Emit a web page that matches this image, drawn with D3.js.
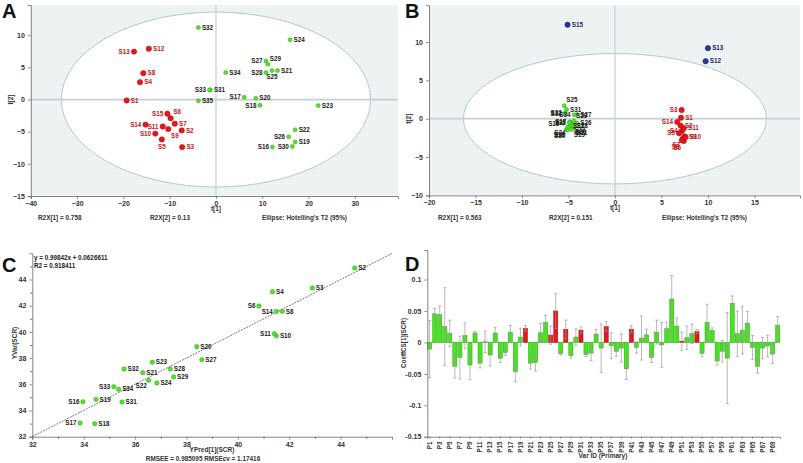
<!DOCTYPE html>
<html><head><meta charset="utf-8">
<script src="https://cdn.jsdelivr.net/npm/d3@7"></script>
<style>body{margin:0;background:#fff} text{font-family:"Liberation Sans",Arial,sans-serif}</style>
</head><body><svg id="c" width="803" height="463"></svg>
<script>
// ---------- Panel A data (PCA scores) ----------
const aRedNames = ["S1","S2","S3","S4","S5","S6","S7","S8","S9","S10","S11","S12","S13","S14","S15"];
const aRedT1 = [-19.3,-7.4,-7.3,-16.4,-11.7,-9.8,-8.9,-15.7,-10.3,-13.1,-11.5,-14.5,-17.7,-15.2,-10.5];
const aRedT2 = [-0.15,-4.8,-7.4,2.7,-6.2,-2.9,-3.75,4.1,-4.6,-5.3,-4.2,7.9,7.45,-3.9,-2.2];
const aRedSide = ["r","r","r","r","b","tr","r","r","br","l","l","r","l","l","l"];
const aGreenNames = ["S16","S17","S18","S19","S20","S21","S22","S23","S24","S25","S26","S27","S28","S29","S30","S31","S32","S33","S34","S35"];
const aGreenT1 = [12.2,6.1,9.5,17.1,8.6,13.3,17.1,22.1,16.0,12.1,15.7,10.8,10.8,11.2,16.5,-1.2,-3.8,-1.4,2.1,-3.8];
const aGreenT2 = [-7.4,0.36,-0.9,-6.6,0.2,4.5,-4.7,-0.94,9.3,4.5,-5.8,6.0,4.2,5.5,-7.3,1.5,11.2,1.5,4.2,-0.2];
const aGreenSide = ["l","l","l","r","r","r","r","r","r","b","l","l","l","tr","l","r","r","l","r","r"];
const aXTicks = [-40,-30,-20,-10,0,10,20,30];
const aYTicks = [-15,-10,-5,0,5,10];

// ---------- Panel B data ----------
const bBlueNames = ["S15","S13","S12"];
const bBlueT1 = [-5.1,10.0,9.75];
const bBlueT2 = [12.25,9.2,7.5];
const bBlueSide = ["r","r","r"];
const bRedNames = ["S1","S2","S3","S4","S5","S6","S7","S8","S9","S10","S11","S14"];
const bRedT1 = [7.1,7.06,7.17,7.2,6.9,7.4,7.3,7.2,7.5,7.6,7.4,6.7];
const bRedT2 = [0.13,-0.9,1.13,-1.6,-1.9,-2.9,-2.6,-2.8,-2.3,-2.4,-1.25,-0.43];
const bRedSide = ["r","r","l","l","l","bl","bl","bl","r","r","r","l"];
const bGreenNames = ["S16","S17","S18","S19","S20","S21","S22","S23","S24","S25","S26","S27","S28","S29","S30","S31","S32","S33","S34","S35"];
const bGreenT1 = [-5.6,-4.85,-5.2,-4.65,-4.5,-4.4,-4.65,-4.9,-5.1,-5.45,-4.1,-4.1,-4.5,-4.4,-5.1,-5.2,-5.35,-5.35,-4.4,-4.9];
const bGreenT2 = [-0.6,-0.4,-1.4,-1.4,-1.0,-1.1,-0.7,-0.95,-1.1,1.7,-0.55,0.55,-0.9,-0.3,-1.5,1.2,0.75,0.65,0.5,-0.5];
const bGreenSide = ["l","l","bl","br","br","br","br","r","bl","tr","r","r","r","tr","bl","r","l","l","l","l"];
const bXTicks = [-20,-15,-10,-5,0,5,10,15];
const bYTicks = [-10,-5,0,5,10];

// ---------- Panel C data (observed vs predicted) ----------
const cNames = ["S2","S3","S4","S6","S8","S10","S11","S14","S16","S17","S18","S19","S20","S21","S22","S23","S24","S27","S28","S29","S31","S32","S33","S34"];
const cPred = [44.55,42.9,41.35,40.82,41.73,41.5,41.42,41.5,33.97,33.86,34.43,34.48,38.4,36.3,36.53,36.67,36.85,38.6,37.37,37.5,35.49,35.57,35.17,35.36];
const cObs  = [44.88,43.35,43.07,41.98,41.57,39.7,39.86,41.57,34.67,33.05,32.99,34.85,38.87,36.89,36.3,37.68,36.1,37.88,37.17,36.56,34.65,37.17,35.82,35.62];
const cSide = ["r","r","r","l","r","r","l","l","l","l","r","r","r","r","bl","r","r","r","r","r","r","r","l","r"];
const cSlope = 0.99842, cIntercept = 0.0626611;
const cTicks = [32,34,36,38,40,42,44];

// ---------- Panel D data (coefficients) ----------
const dVars = d3.range(1,71).map(i => "P" + i);
const dCoef = [-0.0106,0.0455,0.044,0.025,0.0143,-0.038,-0.024,0.0106,-0.036,0.015,
  -0.033,0.001,-0.02,0.015,-0.025,-0.016,0.0164,-0.0466,0.0085,0.0222,
  -0.033,-0.032,0.0153,0.032,0.0116,0.05,-0.0175,0.0206,-0.021,0.0085,
  0.0196,-0.0196,-0.017,0.0132,-0.009,0.0254,-0.0053,-0.014,-0.009,-0.042,
  0.021,-0.008,0.0069,0.012,-0.024,0.0164,-0.004,0.0217,0.069,0.026,
  0.002,0.0074,0.0138,0.017,-0.0175,0.0317,0.019,-0.0296,-0.014,-0.025,
  0.0624,0.0138,0.0196,0.0307,-0.008,-0.038,-0.009,-0.0058,-0.0185,0.0275];
const dCI = [0.0455,0.0085,0.014,0.062,0.021,0.0185,0.034,0.0205,0.0235,0.0025,
  0.0075,0.017,0.0175,0.009,0.007,0.0045,0.0105,0.016,0.014,0.0045,
  0.0095,0.0135,0.015,0.011,0.0145,0.0275,0.0025,0.015,0.004,0.013,
  0.005,0.003,0.012,0.0075,0.0385,0.0075,0.0205,0.008,0.0225,0.017,
  0.0055,0.009,0.035,0.009,0.008,0.019,0.0355,0.0105,0.0375,0.013,
  0.0145,0.0185,0.0155,0.0035,0.0055,0.029,0.004,0.0065,0.017,0.0725,
  0.0115,0.036,0.038,0.0185,0.019,0.011,0.017,0.017,0.015,0.0135];
const dRed = ["P20","P25","P26","P28","P31","P36","P41","P51","P54"];
const dYTicks = [-0.15,-0.1,-0.05,0,0.05,0.1];

// ---------- drawing ----------
const svg = d3.select('#c');
svg.append('rect').attr('width',803).attr('height',463).attr('fill','#fff');
const defs = svg.append('defs');
const pat = defs.append('pattern').attr('id','dots').attr('width',2).attr('height',2).attr('patternUnits','userSpaceOnUse');
pat.append('rect').attr('width',2).attr('height',2).attr('fill','#f3f6f6');
pat.append('rect').attr('width',1).attr('height',1).attr('fill','#e0e8e8');

const COL = {
  red:{fill:'#e3161c',stroke:'#b30d12',text:'#c4141b',r:2.7},
  green:{fill:'#52e52c',stroke:'#2f9a14',text:'#1a1a1a',r:2.0},
  blue:{fill:'#2c3592',stroke:'#1a1f5e',text:'#1c2366',r:2.7}
};

function styleAxis(g){
  g.select('.domain').attr('stroke','#666').attr('stroke-width',0.8);
  g.selectAll('.tick line').attr('stroke','#666').attr('stroke-width',0.7);
  g.selectAll('.tick text').attr('font-size',7).attr('font-weight','bold').attr('fill','#333');
}

function labelPos(side, x, y, r){
  switch(side){
    case 'l': return [x-r-1.5, y+2.2, 'end'];
    case 'b': return [x, y+r+6.5, 'middle'];
    case 't': return [x, y-r-2, 'middle'];
    case 'tr': return [x+r, y-r-1.5, 'start'];
    case 'br': return [x+r, y+r+6, 'start'];
    case 'bl': return [x-r, y+r+6, 'end'];
    default: return [x+r+1.5, y+2.2, 'start'];
  }
}

function drawPoints(g, x, y, names, xs, ys, sides, col){
  const c = COL[col];
  names.forEach((n,i)=>{
    const px = x(xs[i]), py = y(ys[i]);
    g.append('circle').attr('cx',px).attr('cy',py).attr('r',c.r)
      .attr('fill',c.fill).attr('stroke',c.stroke).attr('stroke-width',0.5);
  });
  names.forEach((n,i)=>{
    const px = x(xs[i]), py = y(ys[i]);
    const [lx,ly,anc] = labelPos(sides[i],px,py,c.r);
    g.append('text').attr('x',lx).attr('y',ly).attr('text-anchor',anc)
      .attr('font-size',6.3).attr('font-weight','bold').attr('fill',c.text).text(n);
  });
}

function scorePanel(o){
  const {x,y,rx,ry} = o;
  const g = svg.append('g');
  const [x0,x1] = x.range(), [y0,y1] = y.range();
  g.append('rect').attr('x',x0).attr('y',y1).attr('width',x1-x0).attr('height',y0-y1).attr('fill','url(#dots)');
  g.append('ellipse').attr('cx',x(0)).attr('cy',y(0))
    .attr('rx',x(rx)-x(0)).attr('ry',y(0)-y(ry))
    .attr('fill','#fff').attr('stroke','#b7c8cc').attr('stroke-width',1);
  g.append('line').attr('x1',x0).attr('x2',x1).attr('y1',y(0)).attr('y2',y(0)).attr('stroke','#c4d0d1').attr('stroke-width',1.8);
  g.append('line').attr('x1',x(0)).attr('x2',x(0)).attr('y1',y1).attr('y2',y0).attr('stroke','#c4d0d1').attr('stroke-width',1.2);
  const ax = g.append('g').attr('transform',`translate(0,${y0})`).call(d3.axisBottom(x).tickValues(o.xTicks).tickSize(3).tickPadding(2));
  styleAxis(ax);
  const ay = g.append('g').attr('transform',`translate(${x0},0)`).call(d3.axisLeft(y).tickValues(o.yTicks).tickSize(3).tickPadding(3));
  styleAxis(ay);
  o.groups.forEach(gr => drawPoints(g,x,y,gr.names,gr.xs,gr.ys,gr.sides,gr.col));
  g.append('text').attr('x',x(0)).attr('y',y0+15).attr('text-anchor','middle').attr('font-size',6.5).attr('font-weight','bold').attr('fill','#333').text('t[1]');
  g.append('text').attr('transform',`translate(${x0-18},${y(0)}) rotate(-90)`).attr('text-anchor','middle').attr('font-size',6.5).attr('font-weight','bold').attr('fill','#333').text('t[2]');
  o.notes.forEach(nt => g.append('text').attr('x',nt[0]).attr('y',220).attr('font-family','"DejaVu Sans Mono",monospace').attr('font-size',6.4).attr('font-weight','bold').attr('fill','#333').text(nt[1]));
  g.append('text').attr('x',o.letter[0]).attr('y',o.letter[1]).attr('font-family','"Liberation Serif","Times New Roman",serif').attr('font-weight','bold').attr('font-size',20).attr('fill','#111').text(o.letter[2]);
}

// Panel A
scorePanel({
  x: d3.scaleLinear().domain([-40,39.3]).range([30.8,397.9]),
  y: d3.scaleLinear().domain([-15,14.7]).range([196,5]),
  rx: 33.4, ry: 13.6, xTicks: aXTicks, yTicks: aYTicks,
  groups: [
    {names:aGreenNames,xs:aGreenT1,ys:aGreenT2,sides:aGreenSide,col:'green'},
    {names:aRedNames,xs:aRedT1,ys:aRedT2,sides:aRedSide,col:'red'}],
  notes: [[38,'R2X[1] = 0.758'],[150,'R2X[2] = 0.13'],[262,"Ellipse: Hotelling's T2 (95%)"]],
  letter: [2,18,'A']
});

// Panel B
scorePanel({
  x: d3.scaleLinear().domain([-20,19.9]).range([429,800]),
  y: d3.scaleLinear().domain([-10,14.8]).range([195.4,5.2]),
  rx: 16.3, ry: 8.5, xTicks: bXTicks, yTicks: bYTicks,
  groups: [
    {names:bGreenNames,xs:bGreenT1,ys:bGreenT2,sides:bGreenSide,col:'green'},
    {names:bRedNames,xs:bRedT1,ys:bRedT2,sides:bRedSide,col:'red'},
    {names:bBlueNames,xs:bBlueT1,ys:bBlueT2,sides:bBlueSide,col:'blue'}],
  notes: [[438,'R2X[1] = 0.563'],[549,'R2X[2] = 0.151'],[662,"Ellipse: Hotelling's T2 (95%)"]],
  letter: [405,18,'B']
});

// Panel C
(function(){
  const x = d3.scaleLinear().domain([32,46]).range([32.3,392]);
  const y = d3.scaleLinear().domain([32,46]).range([436.7,253.3]);
  const g = svg.append('g');
  const ax = g.append('g').attr('transform','translate(0,436.7)').call(d3.axisBottom(x).tickValues(cTicks).tickSize(3).tickPadding(2));
  styleAxis(ax);
  g.append('g').attr('transform','translate(0,436.7)').call(d3.axisBottom(x).tickValues(d3.range(33,46,2)).tickSize(2).tickFormat(''))
    .call(s=>{s.select('.domain').remove(); s.selectAll('line').attr('stroke','#666');});
  const ay = g.append('g').attr('transform','translate(32.3,0)').call(d3.axisLeft(y).tickValues(cTicks).tickSize(3).tickPadding(3));
  styleAxis(ay);
  g.append('g').attr('transform','translate(32.3,0)').call(d3.axisLeft(y).tickValues(d3.range(33,46,2)).tickSize(2).tickFormat(''))
    .call(s=>{s.select('.domain').remove(); s.selectAll('line').attr('stroke','#666');});
  g.append('line').attr('x1',x(32)).attr('y1',y(cSlope*32+cIntercept)).attr('x2',x(46)).attr('y2',y(cSlope*46+cIntercept))
    .attr('stroke','#555').attr('stroke-width',0.8).attr('stroke-dasharray','2,1');
  drawPoints(g,x,y,cNames,cPred,cObs,cSide,'green');
  g.selectAll('circle').attr('r',2.2);
  g.append('text').attr('x',34).attr('y',260).attr('font-size',6.3).attr('font-weight','bold').attr('fill','#222').text('y = 0.99842x + 0.0626611');
  g.append('text').attr('x',34).attr('y',268).attr('font-size',6.3).attr('font-weight','bold').attr('fill','#222').text('R2 = 0.918411');
  g.append('text').attr('x',212).attr('y',452).attr('text-anchor','middle').attr('font-size',6.5).attr('font-weight','bold').attr('fill','#333').text('YPred[1](SCR)');
  g.append('text').attr('x',203).attr('y',461).attr('text-anchor','middle').attr('font-family','"DejaVu Sans Mono",monospace').attr('font-size',6.4).attr('font-weight','bold').attr('fill','#333').text('RMSEE = 0.985095 RMSEcv = 1.17416');
  g.append('text').attr('transform','translate(17,343) rotate(-90)').attr('text-anchor','middle').attr('font-size',6.5).attr('font-weight','bold').attr('fill','#333').text('YVar(SCR)');
  g.append('text').attr('x',2).attr('y',272).attr('font-family','"Liberation Serif","Times New Roman",serif').attr('font-weight','bold').attr('font-size',20).attr('fill','#111').text('C');
})();

// Panel D
(function(){
  const x = d3.scaleBand().domain(dVars).range([427.3,780]).paddingInner(0.18).paddingOuter(0.05);
  const y = d3.scaleLinear().domain([-0.15,0.147]).range([436.7,250]);
  const g = svg.append('g');
  g.append('line').attr('x1',427.3).attr('x2',780).attr('y1',y(0)).attr('y2',y(0)).attr('stroke','#c8c8c8').attr('stroke-width',0.8);
  dVars.forEach((v,i)=>{
    const red = dRed.includes(v);
    const val = dCoef[i];
    g.append('rect').attr('x',x(v)).attr('width',x.bandwidth())
      .attr('y',y(Math.max(0,val))).attr('height',Math.abs(y(val)-y(0)))
      .attr('fill',red?'#e3181c':'#47e51f').attr('stroke',red?'#a50f12':'#2ea313').attr('stroke-width',0.5);
  });
  dVars.forEach((v,i)=>{
    const cx = x(v)+x.bandwidth()/2, val = dCoef[i], ci = dCI[i];
    const yt = y(val+ci), yb = y(val-ci);
    g.append('line').attr('x1',cx).attr('x2',cx).attr('y1',yt).attr('y2',yb).attr('stroke','#9a9a9a').attr('stroke-width',0.7);
    [yt,yb].forEach(yy=>g.append('line').attr('x1',cx-1.5).attr('x2',cx+1.5).attr('y1',yy).attr('y2',yy).attr('stroke','#9a9a9a').attr('stroke-width',0.7));
  });
  const ay = g.append('g').attr('transform','translate(427.3,0)').call(d3.axisLeft(y).tickValues(dYTicks).tickSize(3).tickPadding(3).tickFormat(d=>String(+d.toFixed(2))));
  styleAxis(ay);
  const ax = g.append('g').attr('transform','translate(0,436.7)').call(d3.axisBottom(x).tickValues(dVars.filter((d,i)=>i%2===0)).tickSize(2).tickPadding(2));
  styleAxis(ax);
  ax.selectAll('.tick text').attr('transform','rotate(-90)').attr('text-anchor','end').attr('dx','-0.3em').attr('dy','0.35em').attr('y',0).attr('x',-3).attr('font-size',6.3);
  g.append('text').attr('x',603).attr('y',458).attr('text-anchor','middle').attr('font-size',6.5).attr('font-weight','bold').attr('fill','#333').text('Var ID (Primary)');
  g.append('text').attr('transform','translate(406,343) rotate(-90)').attr('text-anchor','middle').attr('font-size',6.3).attr('font-weight','bold').attr('fill','#333').text('CoeffCS[1](SCR)');
  g.append('text').attr('x',405).attr('y',271).attr('font-family','"Liberation Serif","Times New Roman",serif').attr('font-weight','bold').attr('font-size',20).attr('fill','#111').text('D');
})();
</script></body></html>
